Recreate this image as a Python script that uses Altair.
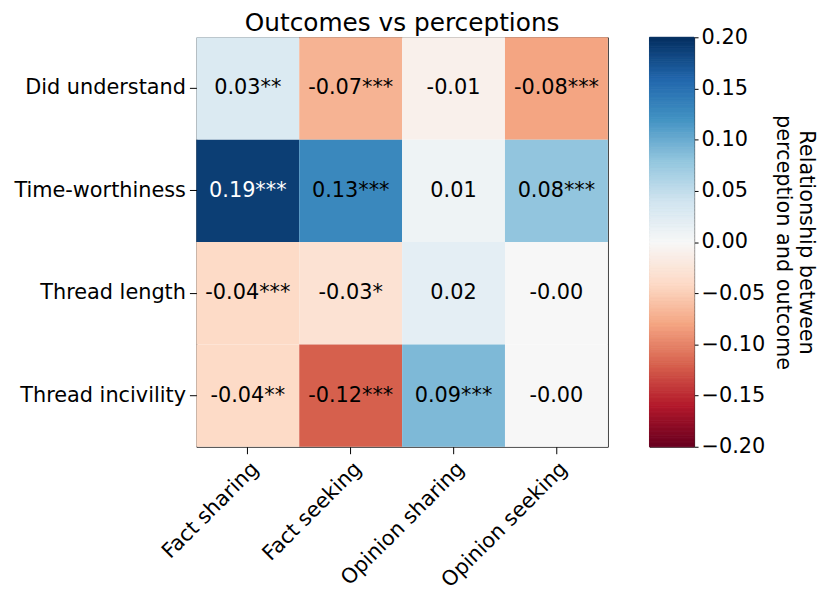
import altair as alt
import numpy as np
import pandas as pd

outcomes = ["Fact sharing", "Fact seeking", "Opinion sharing", "Opinion seeking"]
perceptions = ["Did understand", "Time-worthiness", "Thread length", "Thread incivility"]
values = [
    [0.03, -0.07, -0.01, -0.08],
    [0.19, 0.13, 0.01, 0.08],
    [-0.04, -0.03, 0.02, -0.00],
    [-0.04, -0.12, 0.09, -0.00],
]
stars = [
    ["**", "***", "", "***"],
    ["***", "***", "", "***"],
    ["***", "*", "", ""],
    ["**", "***", "***", ""],
]
cbar_ticks = [-0.20, -0.15, -0.10, -0.05, 0.00, 0.05, 0.10, 0.15, 0.20]

# ColorBrewer RdBu (as in matplotlib), low -> high
rdbu = ["#67001f", "#b2182b", "#d6604d", "#f4a582", "#fddbc7", "#f7f7f7",
        "#d1e5f0", "#92c5de", "#4393c3", "#2166ac", "#053061"]
stops = list(np.linspace(-0.2, 0.2, len(rdbu)))

rows = []
for i, p in enumerate(perceptions):
    for j, o in enumerate(outcomes):
        v = values[i][j]
        rows.append({"perception": p, "outcome": o, "value": v,
                     "label": f"{v:.2f}" + stars[i][j]})
df = pd.DataFrame(rows)

FONT = "DejaVu Sans"
FS = 21
W = 415
H = 413
color_scale = alt.Scale(domain=stops, range=rdbu, interpolate="rgb", clamp=True)

base = alt.Chart(df).encode(
    x=alt.X("outcome:N", sort=outcomes, title=None,
            axis=alt.Axis(labelAngle=-45, labelFontSize=FS, labelColor="black",
                          tickSize=7, tickColor="black", domain=False, labelPadding=4)),
    y=alt.Y("perception:N", sort=perceptions, title=None,
            axis=alt.Axis(labelFontSize=FS, labelColor="black", tickSize=7,
                          tickColor="black", domain=False, labelPadding=4)),
)
rects = base.mark_rect().encode(color=alt.Color("value:Q", scale=color_scale, legend=None))
texts = base.mark_text(fontSize=FS, font=FONT).encode(
    text="label:N",
    color=alt.condition(alt.datum.value > 0.15, alt.value("white"), alt.value("black")),
)
heat = (rects + texts).properties(
    width=W, height=H,
    title=alt.TitleParams("Outcomes vs perceptions", fontSize=25, font=FONT,
                          fontWeight="normal", anchor="middle", frame="group",
                          offset=1, color="black"),
)

n = 300
edges = np.linspace(-0.2, 0.2, n + 1)
cb = pd.DataFrame({"lo": edges[:-1], "hi": edges[1:], "mid": (edges[:-1] + edges[1:]) / 2})
cbar = alt.Chart(cb).mark_rect(strokeWidth=1).encode(
    y=alt.Y("lo:Q", scale=alt.Scale(domain=[-0.2, 0.2], nice=False),
            axis=alt.Axis(orient="right", values=cbar_ticks, format=".2f",
                          labelFontSize=FS, labelColor="black", tickSize=4,
                          tickColor="black", domain=False, grid=False, labelPadding=3,
                          title=["Relationship between", "perception  and outcome"],
                          titleAngle=90, titleFontSize=FS, titleFontWeight="normal",
                          titleColor="black", titlePadding=8, titleBaseline="bottom")),
    y2="hi:Q",
    color=alt.Color("mid:Q", scale=color_scale, legend=None),
    stroke=alt.Color("mid:Q", scale=color_scale, legend=None),
).properties(width=45, height=H)

chart = alt.hconcat(heat, cbar, spacing=40).properties(
    padding={"left": 5, "top": 0, "right": 5, "bottom": 5}
).configure(font=FONT).configure_view(
    stroke="#222", strokeWidth=1
).configure_axis(labelFont=FONT, titleFont=FONT)

chart.save("out.html", embed_options={"renderer": "svg", "actions": False})
